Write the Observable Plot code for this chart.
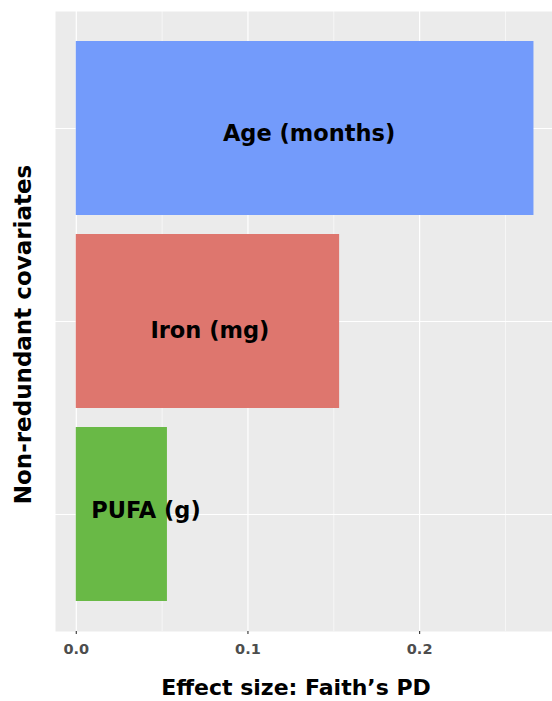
<!DOCTYPE html>
<html>
<head>
<meta charset="utf-8">
<script src="https://cdn.jsdelivr.net/npm/d3@7"></script>
<script src="https://cdn.jsdelivr.net/npm/@observablehq/plot@0.6"></script>
<style>
  html, body { margin: 0; padding: 0; background: #ffffff; }
  #chart svg { display: block; }
</style>
</head>
<body>
<div id="chart"></div>
<script>
// ---- data ----
const categories = ["Age (months)", "Iron (mg)", "PUFA (g)"];
const effectSizes = [0.2666, 0.1534, 0.0531];
const labelX = [0.1356, 0.0778, 0.0406];   // annotation x positions (data units)
const barColors = ["#739BFB", "#DE766E", "#69B946"];
const xMajorTicks = [0, 0.1, 0.2];
const xMinorTicks = [0.05, 0.15, 0.25];
const xTickLabels = ["0.0", "0.1", "0.2"];
const xTitle = "Effect size: Faith’s PD";
const yTitle = "Non-redundant covariates";

const rows = categories.map((c, i) => ({cat: c, value: effectSizes[i], lx: labelX[i]}));
const tickRows = xMajorTicks.map((t, i) => ({t, label: xTickLabels[i]}));

// per-label vertical nudge (px), as placed in the original annotation
const labelNudge = [4, 8.5, -5];

const labelMarks = rows.map((r, i) =>
  Plot.text([r], {
    x: "lx", y: "cat", text: "cat",
    fontSize: 22.5, fontWeight: "bold", fill: "#000000",
    textAnchor: "middle", lineAnchor: "middle", dy: labelNudge[i] + 1
  })
);

const chart = Plot.plot({
  width: 552,
  height: 701,
  marginLeft: 55,
  marginRight: 0,
  marginTop: 11,
  marginBottom: 70,
  style: {fontFamily: "DejaVu Sans", background: "#ffffff", overflow: "visible"},
  x: {domain: [-0.0121, 0.2774], axis: null},
  y: {domain: categories, paddingInner: 0.1, paddingOuter: 0.15, axis: null},
  color: {domain: categories, range: barColors},
  marks: [
    Plot.frame({fill: "#EBEBEB", stroke: null}),
    Plot.gridX(xMinorTicks, {stroke: "#ffffff", strokeOpacity: 1, strokeWidth: 0.6}),
    Plot.gridX(xMajorTicks, {stroke: "#ffffff", strokeOpacity: 1, strokeWidth: 1.2}),
    Plot.gridY(categories, {stroke: "#ffffff", strokeOpacity: 1, strokeWidth: 1.2}),
    Plot.barX(rows, {x: "value", y: "cat", fill: "cat"}),
    ...labelMarks,
    Plot.axisX(xMajorTicks, {
      tickSize: 3, tickFormat: () => "", stroke: "#333333", strokeWidth: 1.1, label: null
    }),
    Plot.text(tickRows, {
      x: "t", text: "label", frameAnchor: "bottom", dy: 17.5,
      fontSize: 14.5, fontWeight: "bold", fill: "#4D4D4D",
      textAnchor: "middle", lineAnchor: "middle"
    }),
    Plot.text([xTitle], {
      frameAnchor: "bottom", dx: -8, dy: 56,
      fontSize: 22, fontWeight: "bold", fill: "#000000",
      textAnchor: "middle", lineAnchor: "middle"
    }),
    Plot.text([yTitle], {
      frameAnchor: "left", rotate: -90, dx: -32, dy: 13,
      fontSize: 23, fontWeight: "bold", fill: "#000000",
      textAnchor: "middle", lineAnchor: "middle"
    })
  ]
});

document.getElementById("chart").appendChild(chart);
</script>
</body>
</html>
